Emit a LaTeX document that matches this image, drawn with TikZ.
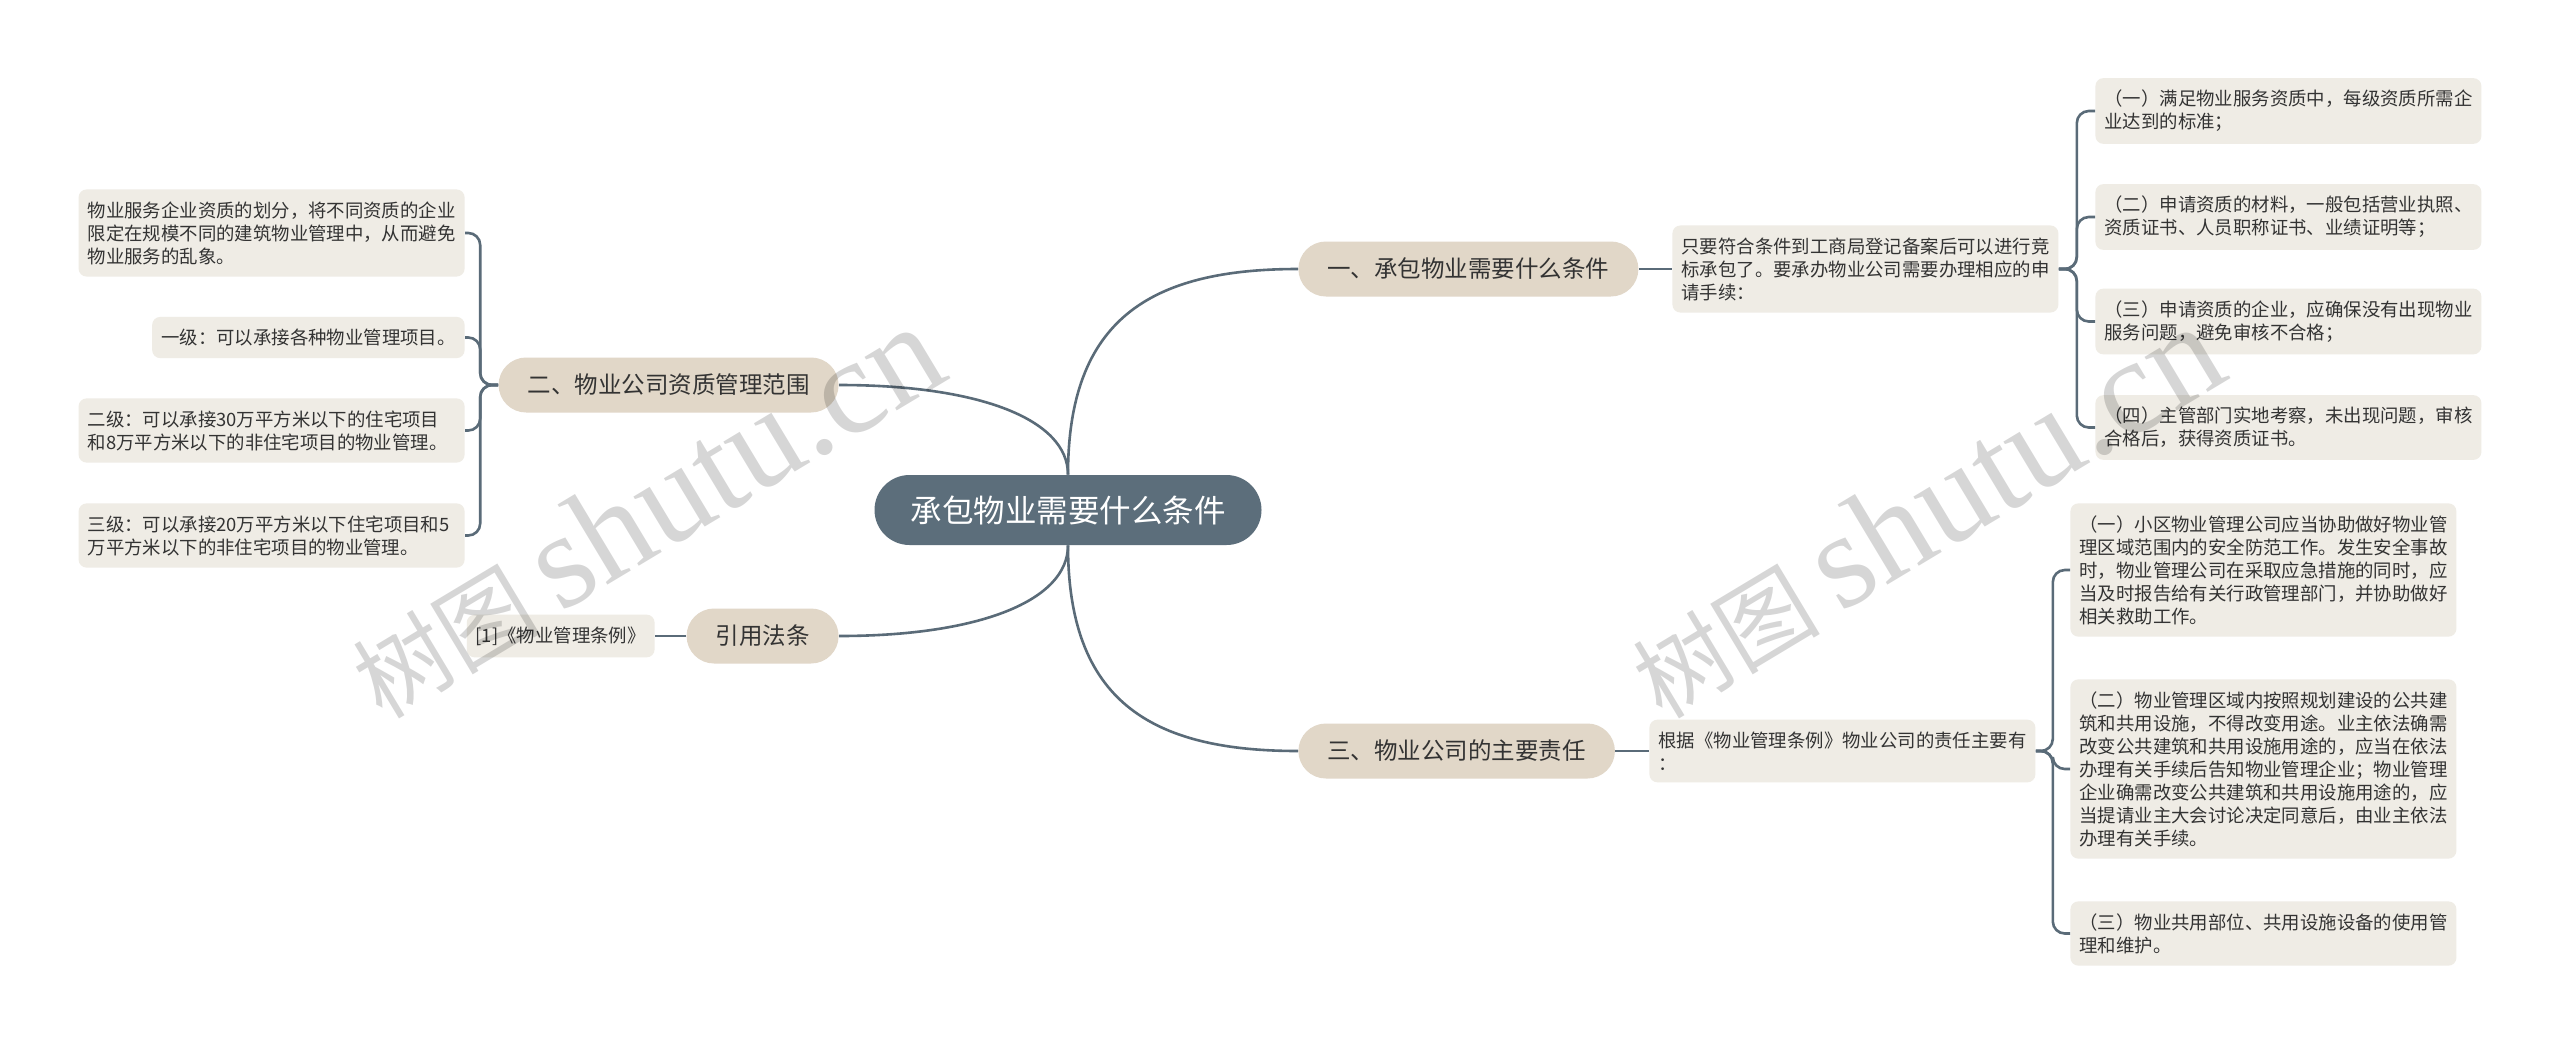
\documentclass[tikz,border=0pt]{standalone}
\usepackage{fontspec}
\setmainfont{Noto Sans CJK SC}
\newfontfamily\wmfont{Liberation Serif}
\definecolor{rootcol}{HTML}{5C6E7B}
\definecolor{linecol}{HTML}{5A6B78}
\definecolor{branchcol}{HTML}{E1D7C8}
\definecolor{leafcol}{HTML}{EFECE5}
\definecolor{txtcol}{HTML}{333333}
\newcommand{\wmtext}{{\fontsize{47pt}{47pt}\selectfont 树图}\hspace{10pt}{\wmfont\fontsize{68pt}{68pt}\selectfont shutu.cn}}

\begin{document}
\begin{tikzpicture}[x=0.5pt,y=-0.5pt,
    link/.style={draw=linecol,line width=1.3pt},
    bracket/.style={link,rounded corners=6pt},
    rootnode/.style={fill=rootcol,text=white,rounded corners=17.5pt,minimum height=35pt,
      inner xsep=18pt,font=\fontsize{15.75pt}{18pt}\selectfont},
    branch/.style={fill=branchcol,text=txtcol,rounded corners=13.75pt,minimum height=27.5pt,
      inner xsep=14.5pt,font=\fontsize{11.75pt}{14pt}\selectfont},
    leaf/.style={fill=leafcol,text=txtcol,rounded corners=4pt,inner xsep=4.5pt,inner ysep=6pt,
      align=left,font=\fontsize{9.2pt}{11.5pt}\selectfont},
    wide/.style={text width=184pt},
    watermark/.style={rotate=31,text=black,opacity=0.16}]
  \fill[white] (0,0) rectangle (2560,1045);
  \useasboundingbox (0,0) rectangle (2560,1045);

  % centre and main branches
  \node[rootnode] (root) at (1068,510) {承包物业需要什么条件};
  \node[branch,anchor=west] (b1) at (1298,269) {一、承包物业需要什么条件};
  \node[branch,anchor=west] (b3) at (1298,751) {三、物业公司的主要责任};
  \node[branch,anchor=east] (b2) at (839,385) {二、物业公司资质管理范围};
  \node[branch,anchor=east] (b4) at (839,636) {引用法条};

  % right side
  \node[leaf,wide,anchor=west] (s1) at (1672,269) {只要符合条件到工商局登记备案后可以进行竞\\标承包了。要承办物业公司需要办理相应的申\\请手续：};
  \node[leaf,wide,anchor=west] (l1a) at (2095,111) {（一）满足物业服务资质中，每级资质所需企\\业达到的标准；};
  \node[leaf,wide,anchor=west] (l1b) at (2095,217) {（二）申请资质的材料，一般包括营业执照、\\资质证书、人员职称证书、业绩证明等；};
  \node[leaf,wide,anchor=west] (l1c) at (2095,321.5) {（三）申请资质的企业，应确保没有出现物业\\服务问题，避免审核不合格；};
  \node[leaf,wide,anchor=west] (l1d) at (2095,427.5) {（四）主管部门实地考察，未出现问题，审核\\合格后，获得资质证书。};

  \node[leaf,wide,anchor=west] (s3) at (1649,751) {根据《物业管理条例》物业公司的责任主要有\\：};
  \node[leaf,wide,anchor=west] (l3a) at (2070,570) {（一）小区物业管理公司应当协助做好物业管\\理区域范围内的安全防范工作。发生安全事故\\时，物业管理公司在采取应急措施的同时，应\\当及时报告给有关行政管理部门，并协助做好\\相关救助工作。};
  \node[leaf,wide,anchor=west] (l3b) at (2070,769) {（二）物业管理区域内按照规划建设的公共建\\筑和共用设施，不得改变用途。业主依法确需\\改变公共建筑和共用设施用途的，应当在依法\\办理有关手续后告知物业管理企业；物业管理\\企业确需改变公共建筑和共用设施用途的，应\\当提请业主大会讨论决定同意后，由业主依法\\办理有关手续。};
  \node[leaf,wide,anchor=west] (l3c) at (2070,933.5) {（三）物业共用部位、共用设施设备的使用管\\理和维护。};

  % left side
  \node[leaf,wide,anchor=east] (l2a) at (465,233) {物业服务企业资质的划分，将不同资质的企业\\限定在规模不同的建筑物业管理中，从而避免\\物业服务的乱象。};
  \node[leaf,anchor=east] (l2b) at (465,337.5) {一级：可以承接各种物业管理项目。};
  \node[leaf,wide,anchor=east] (l2c) at (465,430.5) {二级：可以承接30万平方米以下的住宅项目\\和8万平方米以下的非住宅项目的物业管理。};
  \node[leaf,wide,anchor=east] (l2d) at (465,535.5) {三级：可以承接20万平方米以下住宅项目和5\\万平方米以下的非住宅项目的物业管理。};
  \node[leaf,anchor=east] (l4) at (655,636) {[1]《物业管理条例》};

  % connectors
  \draw[link] (root.north) .. controls +(0,-155) and +(-148,0) .. (b1.west);
  \draw[link] (root.south) .. controls +(0,155) and +(-148,0) .. (b3.west);
  \draw[link] (root.north) .. controls +(0,-55) and +(141,0) .. (b2.east);
  \draw[link] (root.south) .. controls +(0,55) and +(141,0) .. (b4.east);
  \draw[link] (b1.east) -- (s1.west);
  \draw[link] (b3.east) -- (s3.west);
  \draw[link] (b4.west) -- (l4.east);
  \foreach \n in {l1a,l1b,l1c,l1d}
    \draw[bracket] (s1.east) -- ++(18,0) |- (\n.west);
  \foreach \n in {l3a,l3b,l3c}
    \draw[bracket] (s3.east) -- ++(17,0) |- (\n.west);
  \foreach \n in {l2a,l2b,l2c,l2d}
    \draw[bracket] (b2.west) -- ++(-18,0) |- (\n.east);

  % watermark
  \node[watermark] (wm1) at (645,512) {\wmtext};
  \node[watermark] (wm2) at (1925,512) {\wmtext};
\end{tikzpicture}
\end{document}
